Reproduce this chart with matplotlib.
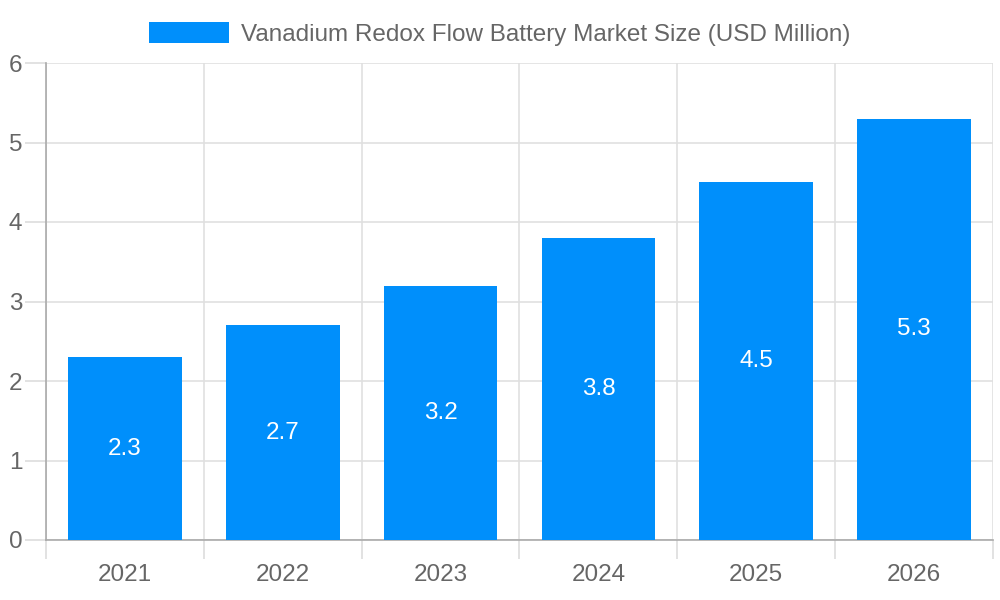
import matplotlib.pyplot as plt

years = ['2021', '2022', '2023', '2024', '2025', '2026']
market_size = [2.3, 2.7, 3.2, 3.8, 4.5, 5.3]

plt.rcParams['font.family'] = ['Liberation Sans', 'DejaVu Sans']

fig = plt.figure(figsize=(10, 6), dpi=100)
ax = fig.add_axes([0.046, 0.1, 0.947, 0.795])

x = range(len(years))
bars = ax.bar(x, market_size, width=0.72, color='#008ffb', zorder=3,
              label='Vanadium Redox Flow Battery Market Size (USD Million)')

for xi, v in zip(x, market_size):
    ax.text(xi, v / 2, f'{v}', ha='center', va='center', color='white',
            fontsize=17.5, zorder=4)

ax.set_xlim(-0.5, len(years) - 0.5)
ax.set_ylim(0, 6)
ax.set_yticks(range(0, 7))

# category labels centered, gridlines at boundaries
ax.set_xticks(list(x))
ax.set_xticklabels(years)
ax.set_xticks([i - 0.5 for i in range(len(years) + 1)], minor=True)
ax.tick_params(axis='x', which='major', length=0, pad=17, labelsize=17.5, labelcolor='#666666')
ax.tick_params(axis='x', which='minor', length=13.5, color='#dddddd', width=1.2)
ax.tick_params(axis='y', length=15, color='#dddddd', width=1.2, pad=2,
               labelsize=17.5, labelcolor='#666666')

ax.grid(True, axis='y', color='#e0e0e0', linewidth=1.2, zorder=0)
ax.grid(True, axis='x', which='minor', color='#e0e0e0', linewidth=1.2, zorder=0)

for side in ['top', 'right']:
    ax.spines[side].set_visible(False)
ax.spines['left'].set_color('#aaaaaa')
ax.spines['bottom'].set_color('#aaaaaa')
ax.spines['left'].set_linewidth(1.2)
ax.spines['bottom'].set_linewidth(1.2)

leg = fig.legend(handles=[bars], loc='upper center', bbox_to_anchor=(0.5, 1.0),
                 frameon=False, fontsize=17.5, handlelength=3.3, handleheight=0.95,
                 handletextpad=0.5, labelcolor='#666666')

plt.savefig('out.png', dpi=100, facecolor='white')
